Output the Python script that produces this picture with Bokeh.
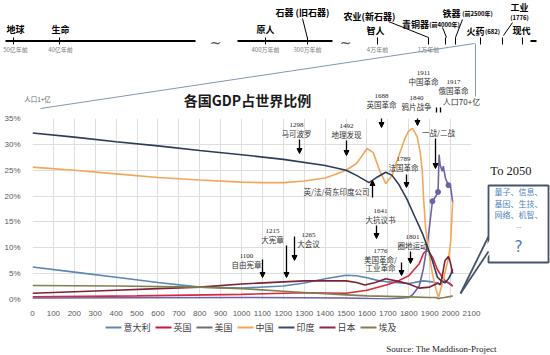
from bokeh.plotting import figure
from bokeh.models import (Range1d, Arrow, NormalHead, PrintfTickFormatter, FixedTicker)
from bokeh.embed import file_html
from bokeh.resources import INLINE
from bokeh.core.properties import value

# ---------------- data (share of world GDP, %) ----------------
italy_years = [0, 200, 400, 600, 800, 1000, 1200, 1300, 1400, 1500, 1550, 1600, 1650, 1700, 1800, 1870, 1913, 1950, 1973, 1990, 2010]
italy_vals  = [6.3, 5.3, 4.3, 3.3, 2.4, 2.2, 2.6, 3.2, 4.0, 4.7, 4.6, 4.2, 3.7, 3.4, 3.1, 3.6, 3.4, 3.0, 3.5, 3.3, 2.6]

uk_years = [0, 500, 1000, 1300, 1500, 1600, 1700, 1750, 1800, 1850, 1870, 1890, 1913, 1937, 1960, 1980, 2000, 2010]
uk_vals  = [0.5, 0.7, 1.0, 1.3, 1.2, 1.8, 2.9, 3.6, 4.6, 6.9, 8.9, 9.6, 8.2, 5.8, 4.3, 3.4, 2.9, 2.6]

us_years = [0, 1000, 1500, 1700, 1800, 1820, 1850, 1870, 1890, 1913, 1930, 1940, 1945, 1950, 1960, 1965, 1975, 1985, 1990, 2000, 2010]
us_vals  = [0.3, 0.4, 0.3, 0.1, 0.4, 1.0, 2.6, 6.0, 11.0, 19.0, 20.0, 20.8, 28.0, 26.0, 24.8, 25.8, 23.5, 22.5, 22.1, 21.8, 18.8]
us_marker_years = [1913, 1940, 1990]

china_years = [0, 200, 400, 600, 800, 1000, 1100, 1200, 1300, 1400, 1450, 1500, 1550, 1580, 1600, 1630, 1660, 1690, 1720, 1750, 1780, 1800, 1818, 1840, 1855, 1865, 1870, 1880, 1894, 1913, 1930, 1942, 1960, 1975, 1990, 2000, 2010]
china_vals  = [25.6, 25.0, 24.3, 23.6, 23.1, 22.7, 22.6, 22.6, 22.9, 23.5, 24.2, 25.0, 26.3, 28.0, 29.2, 28.4, 25.0, 22.4, 24.0, 27.5, 31.0, 32.6, 33.1, 31.5, 28.4, 24.6, 20.0, 14.0, 9.5, 5.0, 2.0, 0.4, 3.0, 5.5, 8.0, 11.0, 19.0]

india_years = [0, 200, 400, 600, 800, 1000, 1200, 1400, 1500, 1550, 1610, 1650, 1690, 1720, 1750, 1790, 1830, 1865, 1890, 1913, 1937, 1950, 1973, 1990, 2000, 2010]
india_vals  = [32.2, 31.4, 30.5, 29.7, 28.8, 28.0, 27.1, 25.9, 25.0, 24.0, 22.6, 23.7, 24.6, 24.0, 22.4, 19.5, 15.9, 12.8, 10.1, 7.5, 4.3, 3.8, 3.2, 4.0, 4.8, 5.8]

japan_years = [0, 200, 400, 600, 800, 1000, 1200, 1300, 1500, 1550, 1590, 1640, 1690, 1750, 1800, 1850, 1900, 1940, 1950, 1960, 1973, 1990, 2000, 2010]
japan_vals  = [1.2, 1.5, 1.8, 2.1, 2.4, 3.0, 3.4, 3.6, 3.6, 3.3, 2.8, 3.3, 4.0, 3.5, 3.0, 2.2, 2.4, 3.2, 2.8, 4.5, 7.5, 8.3, 7.0, 5.0]

egypt_years = [0, 400, 800, 1000, 1200, 1400, 1500, 1600, 1700, 1800, 1900, 1930, 1945, 1950, 1970, 2000, 2010]
egypt_vals  = [2.7, 2.6, 2.4, 2.1, 1.6, 1.1, 0.9, 0.7, 0.6, 0.5, 0.4, 0.4, 0.1, 0.3, 0.4, 0.6, 0.7]

series_names  = ["意大利", "英国", "美国", "中国", "印度", "日本", "埃及"]
series_colors = ["#5b86b5", "#d42a3c", "#6b63a8", "#f2a65a", "#2e3b58", "#7d2038", "#7f7f4f"]
legend_colors = ["#5b86b5", "#c8163e", "#6e6e6e", "#f2a65a", "#3a4a6e", "#8b2942", "#7f7f4f"]

x_ticks = list(range(0, 2101, 100))
y_ticks = [0, 5, 10, 15, 20, 25, 30, 35]

# ---------------- layout ----------------
W, H = 550, 355
FL, FR, FT, FB = 32, 471, 118, 299
XMAX, YMAX = 2100, 35


def dx(px):
    return (px - FL) / (FR - FL) * XMAX


def dy(py):
    return (FB - py) / (FB - FT) * YMAX


p = figure(width=W, height=H, x_range=Range1d(0, XMAX), y_range=Range1d(0, YMAX),
           output_backend="svg", toolbar_location=None,
           min_border_left=FL, min_border_right=W - FR,
           min_border_top=FT, min_border_bottom=H - FB)
p.outline_line_color = None
p.background_fill_color = "white"
p.border_fill_color = "white"

for ax in (p.xaxis[0], p.yaxis[0]):
    ax.axis_line_color = None
    ax.major_tick_line_color = None
    ax.minor_tick_line_color = None
    ax.major_label_text_font_size = "8px"
    ax.major_label_text_color = "#595959"
    ax.major_label_text_font = "Liberation Sans"
p.xaxis.ticker = FixedTicker(ticks=x_ticks)
p.yaxis.ticker = FixedTicker(ticks=y_ticks)
p.yaxis.formatter = PrintfTickFormatter(format="%d%%")
p.yaxis.major_label_standoff = 6
p.xaxis.major_label_standoff = 5
p.xgrid.grid_line_color = "#dedede"
p.ygrid.grid_line_color = "#dedede"

all_years = [italy_years, uk_years, us_years, china_years, india_years, japan_years, egypt_years]
all_vals = [italy_vals, uk_vals, us_vals, china_vals, india_vals, japan_vals, egypt_vals]
for yrs, vals, c in zip(all_years, all_vals, series_colors):
    p.line(yrs, vals, line_color=c, line_width=1.6)

us_mv = [us_vals[us_years.index(y)] for y in us_marker_years]
p.scatter(us_marker_years, us_mv, size=5, fill_color="#6b63a8", line_color="#6b63a8")

CJK = "Noto Sans CJK SC"
SERIF = "Liberation Serif"


def txt(px, py, s, size, color="black", font=CJK, bold=False, align="center"):
    p.text(x=[dx(px)], y=[dy(py)], text=[s], text_font=value(font),
           text_font_size=f"{size}px", text_color=color, text_align=align,
           text_baseline="middle", text_font_style="bold" if bold else "normal",
           level="overlay")


def seg(x0, y0, x1, y1, color="black", width=1.0):
    p.segment(x0=[dx(x0)], y0=[dy(y0)], x1=[dx(x1)], y1=[dy(y1)],
              line_color=color, line_width=width, level="overlay")


def arrow(x0, y0, x1, y1, size=5, width=1.3):
    p.add_layout(Arrow(end=NormalHead(size=size, fill_color="black", line_color="black"),
                       x_start=dx(x0), y_start=dy(y0), x_end=dx(x1), y_end=dy(y1),
                       line_color="black", line_width=width, level="overlay"))


# ---------------- legend (drawn below the frame) ----------------
LEG_Y = 327
leg_x = 105
for name, c in zip(series_names, legend_colors):
    seg(leg_x, LEG_Y, leg_x + 16, LEG_Y, color=c, width=2)
    txt(leg_x + 18, LEG_Y, name, 9, color="#404040", align="left")
    leg_x += 18 + 9 * len(name) + 5

# ---------------- timeline ----------------
TL = 40.5
seg(5, TL, 195, TL, width=2)
seg(237, TL, 332, TL, width=2)
arrow(362, TL, 536, TL, size=6, width=2)
txt(215, 42, "~", 14, color="#555555", font="DejaVu Sans")
txt(345, 42, "~", 14, color="#555555", font="DejaVu Sans")
for tx in [13, 59, 265, 307, 377, 428, 445, 455, 480, 502, 522]:
    seg(tx, 37, tx, 44, width=1)
for tx, s in [(15, "50亿年前"), (60, "40亿年前"), (265, "400万年前"), (307, "300万年前"),
              (377, "4万年前"), (428, "1万年前")]:
    txt(tx, 49, s, 6, color="#777777")
txt(15, 29, "地球", 9, bold=True)
txt(60, 29, "生命", 9, bold=True)
txt(265, 29, "原人", 9, bold=True)
txt(302, 12, "石器 (旧石器)", 9, bold=True)
seg(302, 18, 307, 38)
txt(369, 16, "农业(新石器)", 9, bold=True)
seg(388, 21, 428, 37)
txt(375, 30, "智人", 9, bold=True)
txt(415, 24, "青铜器", 9, bold=True)
txt(444, 24, "(前4000年)", 6, bold=True)
seg(442, 27, 446, 37)
txt(451, 13, "铁器", 9, bold=True)
txt(477, 13, "(前2500年)", 6, bold=True)
seg(462, 19, 455, 37)
txt(475, 31, "火药", 9, bold=True)
txt(492, 31, "(682)", 6, bold=True)
txt(519, 7, "工业", 9, bold=True)
txt(519, 17, "(1776)", 6, bold=True)
seg(512, 22, 503, 35)
txt(521, 30, "现代", 9, bold=True)

# zoom lines
seg(40, 108, 474, 43, color="#8497b0", width=1)
seg(475, 43, 475, 96, color="#8497b0", width=1)
txt(37, 98, "人口1+亿", 6.5, color="#666666")
txt(461, 101, "人口70+亿", 8, color="#333333")

# title
txt(247, 99, "各国GDP占世界比例", 14, color="#1a1a1a", bold=True)

# ---------------- event annotations ----------------
events = [
    # (year text, label lines, text x, first line y, arrow x, arrow y0, arrow y1)
    ("1100", ["自由宪章"], 246, 255, 262, 259, 277),
    ("1215", ["大宪章"], 272, 230, 286, 245, 277),
    ("1265", ["大会议"], 308, 234, 294, 236, 260),
    ("1298", ["马可波罗"], 296, 124, 299, 139, 153),
    ("1492", ["地理发现"], 346, 125, 346, 140, 155),
    ("1688", ["英国革命"], 381, 95, 381, 110, 127),
    ("1840", ["鸦片战争"], 416, 97, 417, 112, 125),
    ("1911", ["中国革命"], 423, 72, 436, 86, 112),
    ("1917", ["俄国革命"], 453, 81, 440, 86, 112),
    ("1789", ["法国革命"], 403, 158, 406, 174, 187),
    ("1641", ["大抗议书"], 380, 210, 376, 225, 238),
    ("1801", ["圈地运动"], 412, 236, 410, 251, 263),
    ("1776", ["美国革命/", "工业革命"], 380, 250, 401, 262, 275),
]
for yr, lines, tx, ty, ax_, ay0, ay1 in events:
    txt(tx, ty, yr, 7, font=SERIF, color="#222222")
    for i, ln in enumerate(lines):
        txt(tx, ty + 8.5 * (i + 1), ln, 7.5, color="#333333")
    arrow(ax_, ay0, ax_, ay1)

txt(438, 132, "一战/二战", 7.5, color="#333333")
arrow(435, 138, 435, 168)
txt(336, 191, "英/法/荷东印度公司", 7.5, color="#333333")
arrow(372, 197, 372, 180)

# ---------------- callout ----------------
txt(512, 170, "To  2050", 12.5, font=SERIF, color="#1a1a1a")
p.quad(left=[dx(488)], right=[dx(548)], top=[dy(185)], bottom=[dy(262)],
       fill_color="white", line_color="#44546a", line_width=1.8, level="overlay")
p.patch(x=[dx(491), dx(460), dx(491)], y=[dy(236), dy(293), dy(251)],
        fill_color="white", line_color=None, level="overlay")
seg(488, 236, 460, 293, color="#44546a", width=1.8)
seg(488, 251, 460, 293, color="#44546a", width=1.8)
for i, s in enumerate(["量子、信息、", "基因、生技、", "网络、机智、"]):
    txt(518, 191 + 11.5 * i, s, 8, color="#4f81bd")
txt(518, 225, "...", 7, color="#7f7f7f", font=SERIF)
txt(518, 246, "?", 16, color="#4f81bd", font="DejaVu Sans")

# source
txt(441, 348, "Source: The Maddison-Project", 9, font=SERIF, color="#222222")

open("out.html", "w").write(file_html(p, INLINE))
